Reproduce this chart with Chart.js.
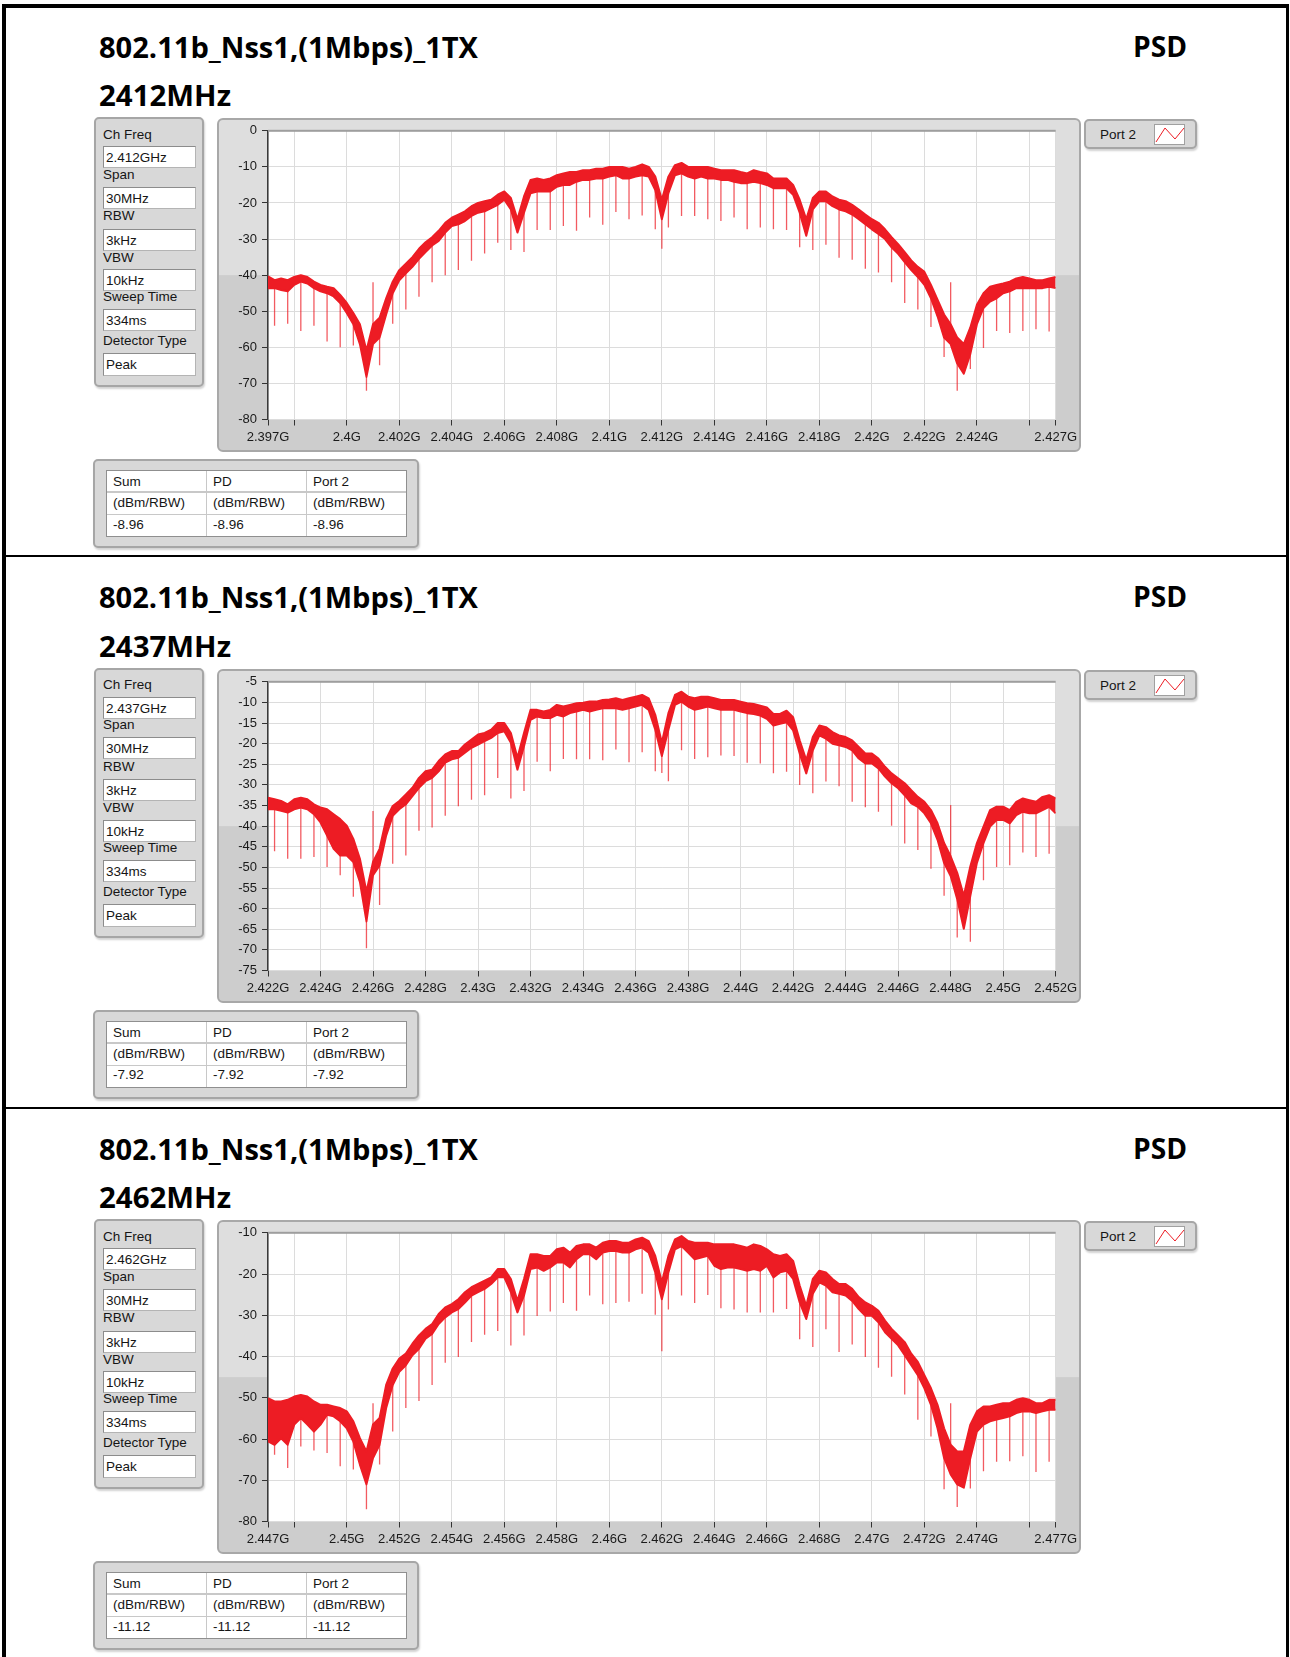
<!DOCTYPE html>
<html>
<head>
<meta charset="utf-8">
<title>802.11b_Nss1 PSD</title>
<script src="https://cdn.jsdelivr.net/npm/chart.js@4.4.1/dist/chart.umd.min.js"></script>
<style>
  html, body { margin: 0; padding: 0; background: #fff; }
  body { position: relative; width: 1290px; height: 1657px; overflow: hidden;
         font-family: 'Liberation Sans', sans-serif; font-size: 13.5px; color: #151515; }
  .bar { position: absolute; background: #000; }
  .big { position: absolute; font: bold 28px 'Open Sans', sans-serif; line-height: 28px; white-space: nowrap; transform-origin: 0 0; color: #000; }
  .txt { position: absolute; line-height: 16px; white-space: nowrap; }
  .box { position: absolute; background: #d8d8d8; border: 2px solid #a6a6a6; border-radius: 5px; box-sizing: border-box; box-shadow: 1px 2px 2px rgba(0,0,0,0.18); }
  .field { position: absolute; background: #fff; box-sizing: border-box; border: 1px solid #b4b4b4; border-top-color: #8c8c8c; border-left-color: #8c8c8c; }
  .line { position: absolute; background: #c8c8c8; }
  canvas { position: absolute; }
</style>
</head>
<body>
<script>
// frequency offsets from channel centre (MHz)
const offsets = [
  -15, -14.75, -14.5, -14.25, -14, -13.75, -13.5, -13.25, -13, -12.75, -12.5, -12.25, -12, -11.75, -11.5, -11.25, -11, -10.75, -10.5, -10.25,
  -10, -9.75, -9.5, -9.25, -9, -8.75, -8.5, -8.25, -8, -7.75, -7.5, -7.25, -7, -6.75, -6.5, -6.25, -6, -5.75, -5.5, -5.25,
  -5, -4.75, -4.5, -4.25, -4, -3.75, -3.5, -3.25, -3, -2.75, -2.5, -2.25, -2, -1.75, -1.5, -1.25, -1, -0.75, -0.5, -0.25,
  0, 0.25, 0.5, 0.75, 1, 1.25, 1.5, 1.75, 2, 2.25, 2.5, 2.75, 3, 3.25, 3.5, 3.75, 4, 4.25, 4.5, 4.75,
  5, 5.25, 5.5, 5.75, 6, 6.25, 6.5, 6.75, 7, 7.25, 7.5, 7.75, 8, 8.25, 8.5, 8.75, 9, 9.25, 9.5, 9.75,
  10, 10.25, 10.5, 10.75, 11, 11.25, 11.5, 11.75, 12, 12.25, 12.5, 12.75, 13, 13.25, 13.5, 13.75, 14, 14.25, 14.5, 14.75,
  15
];

// top and bottom edge of the noisy trace band (dBm/RBW), one per offset
const p1Upper = [
  -40.3, -41.4, -40.9, -41.4, -40.5, -40, -40.5, -41.8, -42.7, -43.2, -43.6, -45.5, -47.7, -50.5, -53.6, -60.9, -53.6, -51.8, -46.4, -41.8,
  -38.6, -36.8, -35, -32.7, -30.9, -29.5, -27.7, -25.5, -24.1, -23.2, -22.3, -20.9, -20, -19.5, -19.1, -17.7, -16.8, -18.6, -24.5, -18.2,
  -13.6, -13.2, -13.6, -13.2, -12.3, -11.8, -11.4, -11.4, -10.9, -10.9, -10.5, -10.5, -10, -10, -10, -10.5, -10, -9.3, -10, -12.7,
  -19.1, -12.7, -9.5, -8.9, -10, -10, -10, -10, -10.5, -10.9, -10.9, -10.9, -11.4, -11.8, -10.9, -11.4, -11.8, -13.2, -13.2, -13.2,
  -15, -19.1, -24.5, -18.6, -16.8, -16.8, -18.2, -19.1, -19.5, -20.5, -21.8, -23.2, -24.5, -25.5, -27.3, -29.5, -31.4, -33.6, -35.9, -37.7,
  -39.1, -42.7, -46.8, -50.9, -53.6, -57.3, -59.1, -54.5, -48.2, -45, -43.2, -42.7, -42.3, -41.8, -40.9, -40.5, -40.9, -41.4, -41.4, -40.9,
  -40.5
];
const p1Lower = [
  -43.6, -43.6, -44.1, -44.5, -42.7, -41.8, -42.3, -43.6, -44.5, -45, -45.9, -47.7, -50.5, -53.6, -59.1, -68.2, -59.1, -57.3, -50.9, -45,
  -41.4, -39.5, -37.7, -35.5, -33.6, -31.8, -30.5, -28.2, -26.4, -25.9, -25, -23.6, -22.7, -22.3, -21.4, -20.5, -19.1, -21.8, -28.2, -22.7,
  -17.3, -16.8, -16.8, -16.8, -15.5, -15, -15, -14.1, -13.6, -13.6, -13.2, -13.2, -12.7, -12.3, -13.2, -13.2, -12.7, -12.3, -12.7, -16.4,
  -24.5, -17.3, -12.3, -11.8, -12.7, -13.2, -12.7, -13.2, -13.2, -13.6, -13.6, -14.1, -14.5, -14.5, -14.1, -14.5, -15, -15.9, -15.9, -15.9,
  -17.7, -22.7, -29.1, -21.8, -19.5, -19.5, -20.9, -21.8, -22.3, -23.2, -24.5, -25.9, -27.3, -28.6, -30, -32.3, -34.1, -36.4, -38.6, -40.5,
  -42.7, -46.4, -51.4, -57.3, -59.1, -64.5, -67.3, -61.8, -53.6, -49.1, -47.3, -46.4, -45, -44.5, -43.6, -43.6, -43.6, -43.6, -43.6, -43.2,
  -43.6
];
const p2Upper = [
  -33.1, -33.5, -33.9, -34.7, -33.5, -33.1, -33.5, -34.7, -35.5, -35.9, -37.1, -38.3, -39.9, -43.1, -47.9, -55.9, -48.7, -45.5, -38.3, -35.1,
  -33.9, -32.3, -30.7, -28.3, -26.7, -26.3, -24.2, -22.6, -21.8, -21.8, -20.2, -19, -17.8, -17.4, -16.6, -15, -15, -17.4, -23.4, -17.4,
  -11.8, -11.8, -12.2, -11.8, -10.6, -11, -10.6, -10.2, -10.1, -9.8, -9.8, -9.4, -9.3, -9, -9.4, -9, -8.6, -8.2, -9, -13,
  -19.8, -12.6, -8.2, -7.4, -8.6, -9, -8.6, -8.6, -9, -9.4, -9.4, -9.4, -9.8, -10.2, -10.4, -10.8, -11.2, -12.8, -12.8, -12,
  -13.6, -19.2, -24, -18.4, -15.6, -16, -17.2, -18, -18.4, -19.2, -20.8, -22.4, -22.4, -23.6, -25.6, -27.2, -28.4, -29.6, -31.3, -32.9,
  -34.1, -36.1, -39.3, -44.1, -47.3, -51.3, -56.9, -49.7, -44.1, -40.1, -36.1, -35.3, -35.3, -36.1, -34.1, -33.3, -33.7, -34.1, -32.9, -32.5,
  -33.3
];
const p2Lower = [
  -35.9, -35.9, -36.3, -36.7, -35.9, -35.5, -35.9, -37.1, -39.1, -42.3, -45.5, -47.1, -47.1, -48.7, -53.5, -63.1, -51.9, -49.5, -42.3, -37.5,
  -35.9, -34.7, -32.7, -30.7, -29.1, -28.3, -26.7, -24.6, -23.8, -23.4, -22.2, -21, -20.2, -19.4, -18.6, -17.4, -17, -19.8, -26.3, -20.6,
  -14.2, -13.4, -13.8, -13.8, -13, -13.4, -12.6, -12.2, -11.8, -12.2, -11.8, -11.4, -11.4, -11.4, -11.8, -11.4, -11, -10.6, -11.8, -16.6,
  -23, -16.6, -10.6, -9.8, -11, -11.8, -11.4, -11, -11.4, -11.8, -11.8, -11.8, -12.2, -12.6, -12.8, -13.2, -14, -15.6, -15.2, -14.8,
  -16.8, -22.4, -27.2, -21.6, -18, -18.8, -20, -20.4, -20.8, -21.6, -23.6, -24.8, -24.8, -26, -28, -29.6, -30.8, -32.5, -34.5, -35.3,
  -36.9, -39.3, -43.3, -48.9, -52.1, -57.7, -64.9, -56.9, -48.9, -44.1, -40.1, -38.5, -38.5, -39.3, -37.3, -36.5, -36.9, -36.9, -36.1, -35.3,
  -36.9
];
const p3Upper = [
  -50.1, -50.9, -50.9, -50.5, -49.7, -49.3, -49.7, -50.9, -51.7, -51.7, -52.1, -52.5, -53.3, -55.7, -59.8, -63, -56.5, -54.9, -46.9, -42.9,
  -40.5, -39.3, -36.9, -34.9, -33.3, -32.1, -29.7, -28.1, -27.3, -26.1, -24.4, -23.2, -22.4, -21.6, -20.8, -18.8, -18.8, -21.2, -26.5, -21.2,
  -15.2, -15.2, -15.6, -15.6, -14, -13.6, -14.8, -13.2, -12.8, -12.8, -13.6, -12.4, -12, -12, -12.4, -12.4, -11.6, -11.2, -12, -15.6,
  -22, -15.6, -11.6, -10.8, -12, -12.4, -12.4, -12.4, -12.8, -12.8, -12.8, -12.8, -13.2, -13.6, -12.8, -13.2, -14, -15.2, -15.6, -15.2,
  -16.8, -22.8, -27.7, -21.2, -19.2, -19.6, -21.2, -22.4, -22.4, -23.6, -25.6, -26.9, -27.7, -28.9, -31.3, -33.3, -34.9, -36.5, -39.3, -41.3,
  -44.5, -47.7, -51.7, -57.4, -61.4, -63, -63, -56.5, -53.3, -52.1, -52.1, -51.7, -51.3, -51.3, -50.5, -50.1, -50.5, -51.3, -51.3, -50.5,
  -50.5
];
const p3Lower = [
  -60.6, -61.4, -59.8, -61.4, -56.5, -54.9, -56.5, -58.2, -56.5, -54.1, -54.5, -55.7, -57.4, -60.6, -66.2, -71, -64.6, -61.4, -52.5, -46.9,
  -43.7, -42.1, -39.7, -38.1, -35.7, -34.5, -32.1, -30.5, -29.3, -28.5, -26.9, -25.2, -24.4, -23.6, -22.4, -20.8, -20.8, -24.4, -29.3, -25.2,
  -18.8, -18.4, -19.2, -18.4, -17.2, -17.2, -18.4, -16.4, -15.2, -15.2, -16.4, -14.8, -14.4, -14.4, -14.8, -14.8, -14, -13.6, -14.8, -19.6,
  -26.1, -19.6, -14, -13.2, -14.8, -16.4, -16, -15.6, -18, -18.8, -18.4, -18.4, -18.8, -19.2, -18.8, -19.2, -18, -20.8, -19.6, -19.2,
  -21.2, -26.9, -30.9, -24.8, -22, -22.8, -24.4, -24.8, -25.2, -26.5, -28.5, -30.1, -30.1, -31.7, -34.1, -35.7, -37.3, -39.7, -42.1, -44.5,
  -47.7, -51.7, -57.4, -64.6, -68.6, -71, -71.8, -64.6, -58.2, -56.5, -55.7, -55.3, -54.9, -54.5, -53.7, -53.3, -53.3, -53.7, -53.3, -52.9,
  -52.9
];

// narrow spurs: offset and the level each spur reaches
const spikeOffsets = [
  -14.75, -14.25, -13.75, -13.25, -12.75, -12.25, -11.75, -11.25, -11, -10.75,
  -10.25, -9.75, -9.25, -8.75, -8.25, -7.75, -7.25, -6.75, -6.25, -5.75,
  -5.25, -4.75, -4.25, -3.75, -3.25, -2.75, -2.25, -1.75, -1.25, -0.75,
  -0.25, 0, 0.25, 0.75, 1.25, 1.75, 2.25, 2.75, 3.25, 3.75,
  4.25, 4.75, 5.25, 5.75, 6.25, 6.75, 7.25, 7.75, 8.25, 8.75,
  9.25, 9.75, 10.25, 10.75, 11, 11.25, 11.75, 12.25, 12.75, 13.25,
  13.75, 14.25, 14.75
];
const p1Spike = [
  -54, -53.5, -55.5, -54, -58.4, -60, -59.5, -72, -42, -65,
  -53.5, -49.5, -46, -42, -40, -38.6, -36, -34, -31, -33,
  -33.6, -27.5, -27.5, -26.4, -27.7, -24, -26, -22.5, -24.5, -23.5,
  -27.3, -32.7, -26.8, -23.6, -23.6, -24.5, -25, -24, -27.3, -26.8,
  -27.3, -27.5, -32.3, -33, -31.6, -35.2, -35.7, -38.2, -39.3, -42,
  -47.7, -49.5, -54.4, -62.7, -42, -72, -66, -60.2, -55.5, -56,
  -55.5, -55, -55.6
];
const p2Spike = [
  -46.1, -47.9, -47.9, -47.5, -49.9, -51.9, -57.1, -69.6, -36.3, -59.1,
  -49.1, -47.1, -41.1, -40.3, -37.5, -35.2, -33.6, -32.5, -28.3, -33.3,
  -31.5, -24.4, -26.7, -23.7, -23.8, -23.8, -24, -21.4, -24.5, -22.1,
  -26.7, -27.1, -29.1, -21.6, -23.7, -23.3, -22.9, -23, -24.6, -24.8,
  -27.2, -26.8, -30, -32, -29.2, -30.3, -34.1, -35.4, -36.5, -39.9,
  -44.2, -45.8, -50.3, -56.9, -34.9, -67, -68, -53.1, -49.9, -49.5,
  -46.4, -47.5, -46.7
];
const p3Spike = [
  -63.8, -67, -61.8, -62.8, -63.4, -66.6, -67.4, -77, -51.3, -66.2,
  -58.2, -52.5, -50.8, -46.9, -41.5, -40.1, -36.5, -34.7, -33.8, -37.3,
  -34.9, -30.2, -29.1, -27, -28.9, -25.2, -27.3, -27, -26.7, -24.8,
  -29.9, -38.7, -28.6, -25.2, -27, -25.1, -28.3, -28.6, -29.3, -29.3,
  -29.3, -28.5, -35.8, -37.7, -33.4, -38.9, -37.1, -40.1, -42.7, -44.9,
  -49.2, -55.3, -59.4, -72.2, -51.3, -76.5, -72, -67.8, -65.5, -65.4,
  -64.2, -68, -65.5
];

// axis ticks (MHz) and their labels
const p1XTicks = [2397, 2398, 2400, 2402, 2404, 2406, 2408, 2410, 2412, 2414, 2416, 2418, 2420, 2422, 2424, 2426, 2427];
const p1XLabels = ['2.397G', '', '2.4G', '2.402G', '2.404G', '2.406G', '2.408G', '2.41G', '2.412G', '2.414G', '2.416G', '2.418G', '2.42G', '2.422G', '2.424G', '', '2.427G'];
const p2XTicks = [2422, 2424, 2426, 2428, 2430, 2432, 2434, 2436, 2438, 2440, 2442, 2444, 2446, 2448, 2450, 2452];
const p2XLabels = ['2.422G', '2.424G', '2.426G', '2.428G', '2.43G', '2.432G', '2.434G', '2.436G', '2.438G', '2.44G', '2.442G', '2.444G', '2.446G', '2.448G', '2.45G', '2.452G'];
const p3XTicks = [2447, 2448, 2450, 2452, 2454, 2456, 2458, 2460, 2462, 2464, 2466, 2468, 2470, 2472, 2474, 2476, 2477];
const p3XLabels = ['2.447G', '', '2.45G', '2.452G', '2.454G', '2.456G', '2.458G', '2.46G', '2.462G', '2.464G', '2.466G', '2.468G', '2.47G', '2.472G', '2.474G', '', '2.477G'];
const p1YTicks = [-80, -70, -60, -50, -40, -30, -20, -10, 0];
const p2YTicks = [-75, -70, -65, -60, -55, -50, -45, -40, -35, -30, -25, -20, -15, -10, -5];
const p3YTicks = [-80, -70, -60, -50, -40, -30, -20, -10];

// text content
const titleText = '802.11b_Nss1,(1Mbps)_1TX';
const infoLabels = ['Ch Freq', 'Span', 'RBW', 'VBW', 'Sweep Time', 'Detector Type'];
const p1Info = ['2.412GHz', '30MHz', '3kHz', '10kHz', '334ms', 'Peak'];
const p2Info = ['2.437GHz', '30MHz', '3kHz', '10kHz', '334ms', 'Peak'];
const p3Info = ['2.462GHz', '30MHz', '3kHz', '10kHz', '334ms', 'Peak'];
const tableHead = ['Sum', 'PD', 'Port 2'];
const tableUnit = '(dBm/RBW)';

const panels = [
  { top: 0, center: 2412, channel: '2412MHz', info: p1Info, sum: '-8.96', upper: p1Upper, lower: p1Lower, spike: p1Spike,
    xTicks: p1XTicks, xLabels: p1XLabels, yTicks: p1YTicks },
  { top: 550.5, center: 2437, channel: '2437MHz', info: p2Info, sum: '-7.92', upper: p2Upper, lower: p2Lower, spike: p2Spike,
    xTicks: p2XTicks, xLabels: p2XLabels, yTicks: p2YTicks },
  { top: 1102, center: 2462, channel: '2462MHz', info: p3Info, sum: '-11.12', upper: p3Upper, lower: p3Lower, spike: p3Spike,
    xTicks: p3XTicks, xLabels: p3XLabels, yTicks: p3YTicks }
];

const RED = '#ed1c24';
const tickFont = { family: "'Liberation Sans', sans-serif", size: 13 };

function div(cls, x, y, w, h, text) {
  const d = document.createElement('div');
  d.className = cls;
  d.style.left = x + 'px';
  d.style.top = y + 'px';
  if (w != null) d.style.width = w + 'px';
  if (h != null) d.style.height = h + 'px';
  if (text != null) d.textContent = text;
  document.body.appendChild(d);
  return d;
}
// place small text by its baseline
function label(x, base, text) { return div('txt', x, base - 12.7, null, null, text); }

// page borders
div('bar', 2, 4, 1287, 4);
div('bar', 2, 4, 4, 1653);
div('bar', 1286, 4, 3, 1653);
div('bar', 2, 555, 1287, 2);
div('bar', 2, 1107, 1287, 2);

const framePlugin = {
  id: 'frame',
  beforeDraw(chart) {
    const { ctx, chartArea: a, width: w, height: h } = chart;
    const mid = (a.top + a.bottom) / 2;
    ctx.save();
    ctx.beginPath();
    ctx.roundRect(1, 1, w - 2, h - 2, 5);
    ctx.fillStyle = '#dedede';
    ctx.fill();
    ctx.fillStyle = '#cdcdcd';
    ctx.fillRect(2, mid, a.left - 2, h - mid - 2);
    ctx.fillRect(a.right, mid, w - a.right - 2, h - mid - 2);
    ctx.fillRect(2, a.bottom, w - 4, h - a.bottom - 2);
    ctx.fillStyle = '#fff';
    ctx.fillRect(a.left, a.top, a.right - a.left, a.bottom - a.top);
    ctx.lineWidth = 2;
    ctx.strokeStyle = '#a8a8a8';
    ctx.beginPath();
    ctx.roundRect(1, 1, w - 2, h - 2, 5);
    ctx.stroke();
    ctx.restore();
  },
  afterDatasetsDraw(chart) {
    const { ctx, chartArea: a } = chart;
    ctx.save();
    ctx.fillStyle = '#9e9e9e';
    ctx.fillRect(a.left, a.top - 1, a.right - a.left, 2);
    ctx.restore();
  }
};

panels.forEach(p => {
  const t = p.top;
  const tl = div('big', 99, t + 32.5, null, null, titleText); tl.dataset.w = 379;
  const ch = div('big', 99, t + 81.2, null, null, p.channel); ch.dataset.w = 132;
  const ps = div('big', 1133, t + 31.8, null, null, 'PSD'); ps.dataset.w = 54;

  // settings panel
  div('box', 94, t + 117, 110, 270);
  const labelBase = [139.3, 179.3, 221, 262.3, 301.7, 345.7];
  const fieldTop = [146, 186.5, 228.5, 269, 309, 353];
  infoLabels.forEach((s, i) => {
    div('field', 103, t + fieldTop[i], 93, i === 5 ? 23 : 22);
    label(103, t + labelBase[i], s);
    label(106, t + fieldTop[i] + 17, p.info[i]);
  });

  // result table
  div('box', 93, t + 459, 326, 89);
  div('field', 106, t + 470, 301, 67).style.borderColor = '#8f8f8f';
  div('line', 205.5, t + 471, 1, 65);
  div('line', 305.5, t + 471, 1, 65);
  div('line', 107, t + 491, 299, 2);
  div('line', 107, t + 514, 299, 1);
  [113, 213, 313].forEach((x, i) => {
    label(x, t + 486.7, tableHead[i]);
    label(x, t + 508, tableUnit);
    label(x, t + 529.3, p.sum);
  });

  // legend
  div('box', 1084, t + 119, 113, 30);
  label(1100, t + 140, 'Port 2');
  const icon = document.createElementNS('http://www.w3.org/2000/svg', 'svg');
  icon.setAttribute('width', 31); icon.setAttribute('height', 21);
  icon.style.cssText = 'position:absolute;left:1154px;top:' + (t + 124) + 'px';
  icon.innerHTML = '<rect x="0.5" y="0.5" width="30" height="20" fill="#fff" stroke="#a0a0a0"/>' +
    '<polyline points="2,18 11,4 21,15 30,4" fill="none" stroke="' + RED + '" stroke-width="1"/>';
  document.body.appendChild(icon);

  // graph
  const cv = document.createElement('canvas');
  cv.width = 864; cv.height = 334;
  cv.style.left = '217px'; cv.style.top = (t + 118) + 'px';
  document.body.appendChild(cv);

  const c = p.center;
  const top = offsets.map((o, i) => ({ x: c + o, y: p.upper[i] }));
  const bottom = offsets.map((o, i) => ({ x: c + o, y: p.lower[i] }));
  const spurs = [];
  spikeOffsets.forEach((o, i) => {
    const from = p.lower[offsets.indexOf(o)];
    spurs.push({ x: c + o, y: from }, { x: c + o, y: p.spike[i] }, { x: c + o, y: null });
  });
  const yMin = p.yTicks[0], yMax = p.yTicks[p.yTicks.length - 1];
  const bandLine = { borderColor: RED, borderWidth: 2, pointRadius: 0, tension: 0, borderJoinStyle: 'round', clip: 0 };

  new Chart(cv, {
    type: 'line',
    data: {
      datasets: [
        Object.assign({ data: top, fill: false }, bandLine),
        Object.assign({ data: bottom, fill: '-1', backgroundColor: RED }, bandLine),
        { data: spurs, borderColor: 'rgba(237,28,36,0.72)', borderWidth: 1.3, pointRadius: 0,
          spanGaps: false, clip: 0 }
      ]
    },
    options: {
      responsive: false,
      devicePixelRatio: 1,
      animation: false,
      events: [],
      layout: { padding: { top: 9.5, right: 23.6, left: 0, bottom: 0 } },
      plugins: { legend: { display: false }, tooltip: { enabled: false } },
      scales: {
        x: {
          type: 'linear', min: c - 15, max: c + 15,
          afterBuildTicks: s => { s.ticks = p.xTicks.map(v => ({ value: v })); },
          afterFit: s => { s.height = 32.5; },
          ticks: { autoSkip: false, maxRotation: 0, padding: 4, color: '#1a1a1a', font: tickFont,
                   callback: (v, i) => p.xLabels[i] },
          grid: { color: '#dcdcdc', lineWidth: 1, tickLength: 6, tickColor: '#333' },
          border: { display: false }
        },
        y: {
          type: 'linear', min: yMin, max: yMax,
          afterBuildTicks: s => { s.ticks = p.yTicks.map(v => ({ value: v })); },
          afterFit: s => { s.width = 51; },
          ticks: { autoSkip: false, padding: 5, color: '#1a1a1a', font: tickFont, callback: v => String(v) },
          grid: { color: '#dcdcdc', lineWidth: 1, tickLength: 6, tickColor: '#333' },
          border: { display: true, color: '#3a3a3a', width: 1.5 }
        }
      }
    },
    plugins: [framePlugin]
  });
});

// squeeze headings to the measured widths
document.querySelectorAll('.big').forEach(el => {
  const w = el.getBoundingClientRect().width;
  el.style.transform = 'scaleX(' + (el.dataset.w / w) + ')';
});
</script>
</body>
</html>
